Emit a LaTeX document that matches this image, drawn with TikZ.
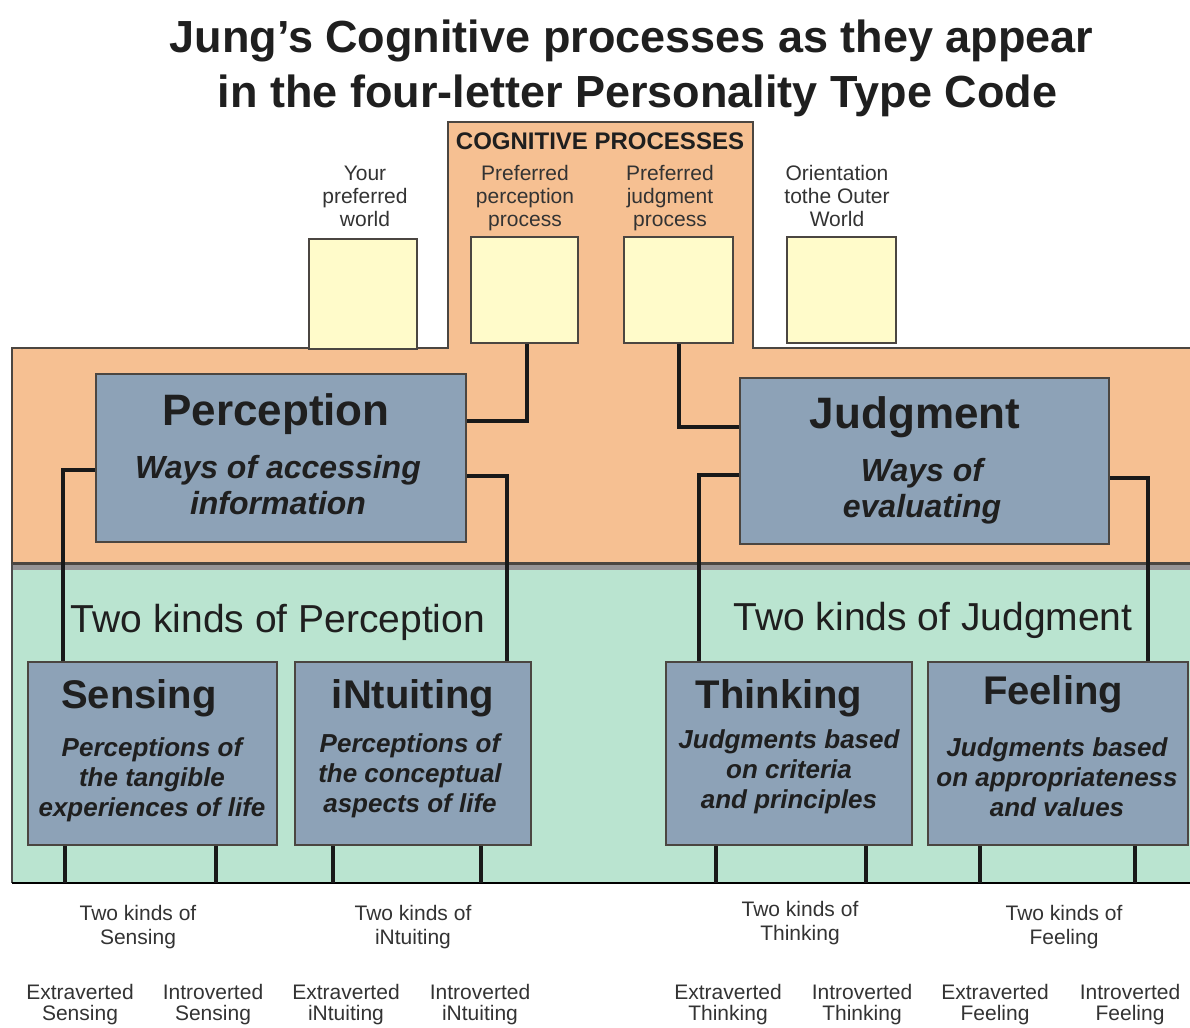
\documentclass[tikz,border=0pt]{standalone}
\usepackage{fontspec}
\setmainfont{Liberation Sans}
\usetikzlibrary{calc}
\definecolor{peach}{RGB}{246,192,146}
\definecolor{mint}{RGB}{186,228,208}
\definecolor{slate}{RGB}{141,162,183}
\definecolor{cream}{RGB}{255,251,202}
\definecolor{rim}{RGB}{75,70,65}
\definecolor{divgray}{RGB}{150,148,150}
\newcommand\mlines[1]{\vtop{\halign{\hfil##\hfil\cr#1\crcr}}}
\newcommand\fsz[2]{\fontsize{#1}{#2}\selectfont}
\tikzset{
  txt/.style={inner sep=0, anchor=base, text=black!88},
  ttl/.style={txt, font=\fsz{45}{55}\bfseries},
  toplbl/.style={txt, text=black!80, font=\fsz{21}{23}},
  botlbl/.style={txt, text=black!80, font=\fsz{21}{24.5}},
  rowlbl/.style={txt, text=black!80, font=\fsz{21}{21.5}},
  bigtitle/.style={txt, font=\fsz{44}{50}\bfseries},
  bigsub/.style={txt, font=\fsz{32}{36.5}\bfseries\itshape},
  kinds/.style={txt, font=\fsz{39}{44}},
  smtitle/.style={txt, font=\fsz{40}{44}\bfseries},
  smsub/.style={txt, font=\fsz{26}{30}\bfseries\itshape},
  ybox/.style={draw=rim, line width=2, fill=cream, inner sep=0, anchor=north west},
  bbox/.style={draw=rim, line width=2, fill=slate, inner sep=0, anchor=north west},
  conn/.style={line width=4, black!90}
}
\begin{document}
\begin{tikzpicture}[x=1pt,y=-1pt]
\fill[white] (0,0) rectangle (1190,1027);
\useasboundingbox (0,0) rectangle (1190,1027);
% bands
\path[fill=peach] (12,348) -- (448,348) -- (448,122) -- (753,122) -- (753,348) -- (1190,348) -- (1190,566) -- (12,566) -- cycle;
\fill[mint] (12,568) rectangle (1190,883);
\fill[divgray] (12,565) rectangle (1190,570);
\draw[rim, line width=2.5] (12,563.5) -- (1190,563.5);
\draw[rim, line width=2] (12,564) -- (12,348) -- (448,348) -- (448,122) -- (753,122) -- (753,348) -- (1190,348);
\draw[black!70, line width=2] (12,564) -- (12,883);
\draw[black, line width=2.5] (12,883) -- (1190,883);
\coordinate (floor) at (12,883);
% titles
\node[ttl] (t1) at (631.5,53) {Jung's Cognitive processes as they appear};
\node[ttl] (t2) at (637.5,108) {in the four-letter Personality Type Code};
\node[txt, font=\fsz{24}{28}\bfseries] (cp) at (600,150) {COGNITIVE PROCESSES};
% top labels
\node[toplbl] (l1) at (365,181) {\mlines{Your\cr preferred\cr world}};
\node[toplbl] (l2) at (525,181) {\mlines{Preferred\cr perception\cr process}};
\node[toplbl] (l3) at (670,181) {\mlines{Preferred\cr judgment\cr process}};
\node[toplbl] (l4) at (837,181) {\mlines{Orientation\cr tothe Outer\cr World}};
% yellow boxes
\node[ybox, minimum width=108, minimum height=110] (y1) at (308,238) {};
\node[ybox, minimum width=107, minimum height=106] (y2) at (470,236) {};
\node[ybox, minimum width=109, minimum height=106] (y3) at (623,236) {};
\node[ybox, minimum width=109, minimum height=106] (y4) at (786,236) {};
% blue boxes
\node[bbox, minimum width=370, minimum height=168] (perc) at (95,373) {};
\node[bbox, minimum width=369, minimum height=166] (judg) at (739,377) {};
\node[bbox, minimum width=249, minimum height=183] (sens) at (27,661) {};
\node[bbox, minimum width=236, minimum height=183] (intu) at (294,661) {};
\node[bbox, minimum width=246, minimum height=183] (thnk) at (665,661) {};
\node[bbox, minimum width=260, minimum height=183] (feel) at (927,661) {};
% connectors
\draw[conn] ($(y2.south west)+(57,0)$) |- ($(perc.north east)+(0,48)$);
\draw[conn] (y3.south) |- ($(judg.north west)+(0,50)$);
\draw[conn] ($(perc.north west)+(0,97)$) -| ($(sens.north west)+(36,0)$);
\draw[conn] ($(perc.north east)+(0,103)$) -| ($(intu.north west)+(213,0)$);
\draw[conn] ($(judg.north west)+(0,98)$) -| ($(thnk.north west)+(34,0)$);
\draw[conn] ($(judg.north east)+(0,101)$) -| ($(feel.north west)+(221,0)$);
\foreach \b/\o in {sens/38, sens/189, intu/39, intu/187, thnk/51, thnk/201, feel/53, feel/208}
  \draw[conn] ($(\b.south west)+(\o,0)$) coordinate (tmp) -- (tmp |- floor);
% texts in boxes
\node[bigtitle] (percT) at (276,425) {Perception};
\node[bigsub] (percS) at (278,478) {\mlines{Ways of accessing\cr information}};
\node[bigtitle] (judgT) at (915,428) {Judgment};
\node[bigsub] (judgS) at (922,481) {\mlines{Ways of\cr evaluating}};
\node[kinds] (kp) at (278,632) {Two kinds of Perception};
\node[kinds] (kj) at (933,630) {Two kinds of Judgment};
\node[smtitle] (sensT) at (139,708) {Sensing};
\node[smtitle] (intuT) at (413,708) {iNtuiting};
\node[smtitle] (thnkT) at (779,708) {Thinking};
\node[smtitle] (feelT) at (1053,704) {Feeling};
\node[smsub] (sensS) at (152,756) {\mlines{Perceptions of\cr the tangible\cr experiences of life}};
\node[smsub] (intuS) at (410,752) {\mlines{Perceptions of\cr the conceptual\cr aspects of life}};
\node[smsub] (thnkS) at (789,748) {\mlines{Judgments based\cr on criteria\cr and principles}};
\node[smsub] (feelS) at (1057,756) {\mlines{Judgments based\cr on appropriateness\cr and values}};
% bottom labels
\node[botlbl] (bs) at (138,920) {\mlines{Two kinds of\cr Sensing}};
\node[botlbl] (bn) at (413,920) {\mlines{Two kinds of\cr iNtuiting}};
\node[botlbl] (bt) at (800,916) {\mlines{Two kinds of\cr Thinking}};
\node[botlbl] (bf) at (1064,920) {\mlines{Two kinds of\cr Feeling}};
\node[rowlbl] (es) at (80,999) {\mlines{Extraverted\cr Sensing}};
\node[rowlbl] (is) at (213,999) {\mlines{Introverted\cr Sensing}};
\node[rowlbl] (en) at (346,999) {\mlines{Extraverted\cr iNtuiting}};
\node[rowlbl] (in) at (480,999) {\mlines{Introverted\cr iNtuiting}};
\node[rowlbl] (et) at (728,999) {\mlines{Extraverted\cr Thinking}};
\node[rowlbl] (it) at (862,999) {\mlines{Introverted\cr Thinking}};
\node[rowlbl] (ef) at (995,999) {\mlines{Extraverted\cr Feeling}};
\node[rowlbl] (if) at (1130,999) {\mlines{Introverted\cr Feeling}};
\end{tikzpicture}
\end{document}
